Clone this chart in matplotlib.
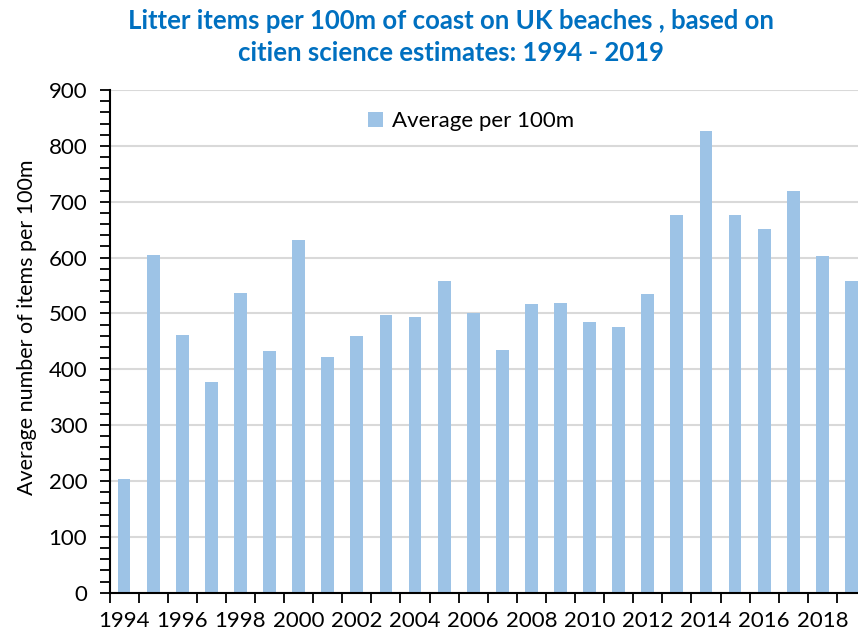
import matplotlib
matplotlib.use("Agg")
import matplotlib.pyplot as plt
from matplotlib.ticker import MultipleLocator, FixedLocator
import numpy as np

plt.rcParams['font.family'] = ['Lato', 'DejaVu Sans']

years = list(range(1994, 2020))
values = [203, 604, 462, 377, 537, 432, 632, 422, 460, 498, 493, 558, 500,
          435, 516, 519, 484, 475, 535, 677, 826, 677, 652, 720, 602, 558]
tick_years = list(range(1994, 2020, 2))
series_name = "Average per 100m"
title = "Litter items per 100m of coast on UK beaches , based on\ncitien science estimates: 1994 - 2019"
ylabel = "Average number of items per 100m"

fig = plt.figure(figsize=(8.58, 6.33), dpi=100)
W, H = 858, 633
left, right, top, bottom = 109.5, 866.0, 90.0, 592.7
ax = fig.add_axes([left / W, (H - bottom) / H, (right - left) / W, (bottom - top) / H])

x = np.arange(len(years))
ax.bar(x, values, width=0.44, color='#9DC3E6', label=series_name, zorder=2)

ax.set_xlim(-0.5, len(years) - 0.5)
ax.set_ylim(0, 900)
ax.yaxis.set_major_locator(MultipleLocator(100))
ax.yaxis.set_minor_locator(MultipleLocator(20))
ax.grid(axis='y', which='major', color='#d9d9d9', linewidth=1.5, zorder=0)
ax.set_axisbelow(True)

ax.set_xticks([years.index(y) for y in tick_years])
ax.set_xticklabels([str(y) for y in tick_years])
ax.xaxis.set_minor_locator(FixedLocator(np.arange(-0.5, len(years), 1.0)))
ax.tick_params(axis='x', which='major', length=0, pad=13, labelsize=16, labelcolor='black')
ax.tick_params(axis='x', which='minor', length=7, width=1.3, direction='out', color='black')
ax.tick_params(axis='y', which='both', length=7, width=1.3, direction='out', color='black')
ax.tick_params(axis='y', which='major', labelsize=16, pad=9)

for s in ['top', 'right']:
    ax.spines[s].set_visible(False)
for s in ['left', 'bottom']:
    ax.spines[s].set_color('black')
    ax.spines[s].set_linewidth(1.5)

ax.set_ylabel(ylabel, fontsize=15.5, va='center')
ax.yaxis.set_label_coords((27 - left) / (right - left), (bottom - 327) / (bottom - top))

leg = ax.legend(loc='upper center', bbox_to_anchor=(471 / W, (H - 91) / H),
                bbox_transform=fig.transFigure, frameon=False, fontsize=16,
                handlelength=0.65, handleheight=0.65, handletextpad=0.4)

fig.text(451 / W, 1 - 37 / H, title, ha='center', va='center', fontsize=18.5,
         fontweight='bold', color='#0070C0', linespacing=1.42)

fig.savefig('out.png', dpi=100)
